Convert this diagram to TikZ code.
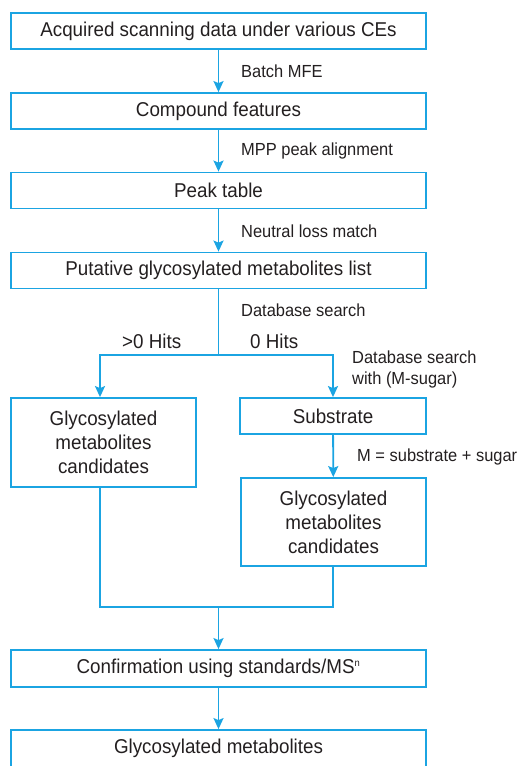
\documentclass[tikz,border=0pt]{standalone}
\usepackage{fontspec}
\setmainfont[FakeStretch=0.94]{Liberation Sans}
\usetikzlibrary{arrows.meta}
\definecolor{lblue}{RGB}{27,164,226}
\definecolor{txt}{RGB}{35,31,32}
\tikzset{
  box/.style={draw=lblue, line width=1.8pt, text=txt, font=\fontsize{20}{23}\selectfont, align=center, inner sep=0pt},
  lab/.style={text=txt, font=\fontsize{17.5}{21}\selectfont, anchor=west, inner sep=0pt, align=left},
  arr/.style={draw=lblue, line width=1.8pt, -{Stealth[width=10pt,length=11pt,inset=2pt]}},
  ln/.style={draw=lblue, line width=1.8pt},
}
\begin{document}
\begin{tikzpicture}[x=1pt,y=-1pt]
\useasboundingbox (0,0) rectangle (522,766);
\node[box, minimum width=415pt, minimum height=36pt] (b1) at (218.5,31) {Acquired scanning data under various CEs};
\node[box, minimum width=415pt, minimum height=36pt] (b2) at (218.5,111) {Compound features};
\node[box, minimum width=415pt, minimum height=36pt] (b3) at (218.5,190.5) {Peak table};
\node[box, minimum width=415pt, minimum height=36pt] (b4) at (218.5,270.5) {Putative glycosylated metabolites list};
\node[box, minimum width=185pt, minimum height=89pt] (l1) at (103.5,442.5) {Glycosylated\\[1pt]metabolites\\[1pt]candidates};
\node[box, minimum width=186pt, minimum height=36pt] (s1) at (333,416) {Substrate};
\node[box, minimum width=185pt, minimum height=88pt] (r1) at (333.5,522) {Glycosylated\\[1pt]metabolites\\[1pt]candidates};
\node[box, minimum width=415pt, minimum height=37pt] (b5) at (218.5,668.5) {Confirmation using standards/MS\textsuperscript{\fontsize{10}{11}\selectfont n}};
\node[box, minimum width=415pt, minimum height=37pt] (b6) at (218.5,748.5) {Glycosylated metabolites};

\draw[arr] (b1) -- (b2);
\draw[arr] (b2) -- (b3);
\draw[arr] (b3) -- (b4);
\coordinate (split) at (218.5,355);
\coordinate (sl) at (100,355);
\coordinate (sr) at (333,355);
\draw[ln] (b4.south) -- (split);
\draw[arr] (split) -- (sl) -- (l1.north -| sl);
\draw[arr] (split) -- (sr) -- (s1.north -| sr);
\draw[arr] (s1) -- (r1);
\coordinate (jl) at (100,607);
\coordinate (jr) at (333,607);
\coordinate (jm) at (218.5,607);
\draw[ln] (l1.south -| jl) -- (jl) -- (jr) -- (r1.south -| jr);
\draw[arr] (jm) -- (b5);
\draw[arr] (b5) -- (b6);

\node[lab] (t1) at (241,71) {Batch MFE};
\node[lab] (t2) at (241,151) {MPP peak alignment};
\node[lab] (t3) at (241,231) {Neutral loss match};
\node[lab] (t4) at (241,310) {Database search};
\node[lab, font=\fontsize{20}{23}\selectfont] (t5) at (122,341) {>0 Hits};
\node[lab, font=\fontsize{20}{23}\selectfont] (t6) at (250,341) {0 Hits};
\node[lab] (t7) at (352,369.5) {Database search\\with (M-sugar)};
\node[lab] (t8) at (357,457) {M = substrate + sugar};
\end{tikzpicture}
\end{document}
